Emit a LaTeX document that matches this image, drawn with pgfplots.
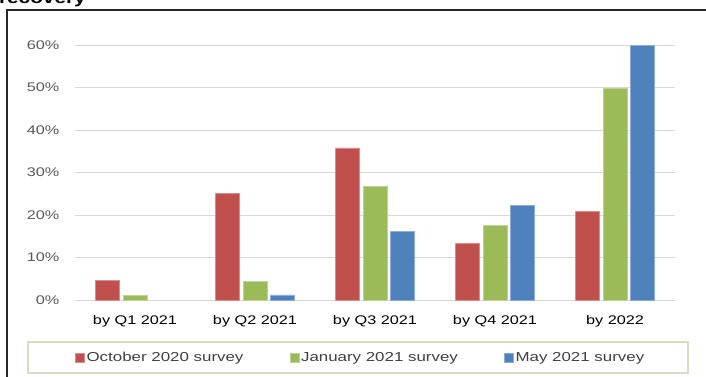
\documentclass[border=0pt]{standalone}
\usepackage{pgfplots}
\pgfplotsset{compat=1.18}
\usepackage{fontspec}
\setmainfont{Liberation Sans}[FakeStretch=1.3]
\definecolor{cred}{HTML}{C0504D}
\definecolor{cgreen}{HTML}{9BBB59}
\definecolor{cblue}{HTML}{4F81BD}
\definecolor{gridc}{HTML}{D9D9D9}
\definecolor{ticktext}{HTML}{595959}
\definecolor{legtext}{HTML}{404040}
\definecolor{legbox}{HTML}{DDD9C3}
\begin{document}
\begin{tikzpicture}
\useasboundingbox (0,0) rectangle (706pt,376pt);
\draw[line width=1.8pt, color=black!85] (7pt,-20pt) -- (7pt,366pt) -- (740pt,366pt);
\node[anchor=base east, font=\bfseries\fontsize{16}{19}\selectfont, inner sep=0pt] at (86pt,373pt) {recovery};
\draw[color=legbox, line width=1.2pt] (28pt,3pt) rectangle (688pt,34pt);
\begin{axis}[
  at={(75pt,76pt)}, anchor=south west,
  width=600pt, height=255pt, scale only axis,
  xmin=-0.5, xmax=4.5, ymin=0, ymax=60,
  axis line style={draw=none},
  major tick length=0pt,
  ytick={0,10,20,30,40,50,60},
  yticklabels={0\%,10\%,20\%,30\%,40\%,50\%,60\%},
  xtick={0,1,2,3,4},
  xticklabels={by Q1 2021,by Q2 2021,by Q3 2021,by Q4 2021,by 2022},
  ymajorgrids, grid style={color=gridc, line width=1pt},
  yticklabel style={inner sep=0pt, xshift=-15.5pt, text=ticktext, font=\fontsize{12.5}{15}\selectfont},
  xticklabel style={inner sep=0pt, yshift=-15pt, text=black, font=\fontsize{12.5}{15}\selectfont},
  ybar=3.5pt, bar width=24pt,
  clip=false,
  legend columns=3,
  legend image code/.code={\fill[#1] (0pt,-4.5pt) rectangle (9pt,4.5pt);},
  legend style={at={(0.0008,-0.2255)}, anchor=west, draw=none, fill=none,
    inner sep=0pt, outer sep=0pt,
    nodes={inner sep=1.5pt, text=legtext, font=\fontsize{13}{15}\selectfont},
    /tikz/every even column/.append style={column sep=45pt}},
]
\addplot[fill=cred, draw=cred!65!white, line width=0.6pt] coordinates {(0,4.6) (1,25.1) (2,35.8) (3,13.3) (4,20.8)};
\addplot[fill=cgreen, draw=cgreen!65!white, line width=0.6pt] coordinates {(0,1.0) (1,4.4) (2,26.7) (3,17.6) (4,49.8)};
\addplot[fill=cblue, draw=cblue!65!white, line width=0.6pt] coordinates {(1,1.2) (2,16.2) (3,22.2) (4,60.0)};
\legend{October 2020 survey,January 2021 survey,May 2021 survey}
\end{axis}
\end{tikzpicture}
\end{document}
